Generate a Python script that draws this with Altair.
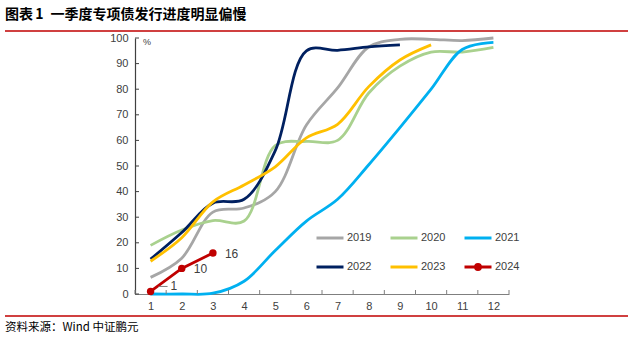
import altair as alt
import pandas as pd

months = list(range(1, 13))
years = ["2019", "2020", "2021", "2022", "2023", "2024"]
v2019 = [6.5, 14, 32, 33.6, 40, 66, 80.5, 96.5, 99.5, 99.5, 99, 100]
v2020 = [19, 25, 28.7, 28.5, 58, 59.6, 60, 78.5, 89, 94.5, 94.5, 96.3]
v2021 = [0, 0, 0.3, 5, 17, 28.5, 37, 50.5, 65, 80, 95.5, 98.3]
v2022 = [13.6, 24, 35.5, 37, 56, 95, 95.2, 96.5, 97.3]
v2023 = [12.8, 22, 36, 42.6, 49.7, 61, 66.3, 81, 91.4, 97.3]
v2024 = [1, 10, 16]
labels2024 = ["1", "10", "16"]
colors = ["#a6a6a6", "#a9d18e", "#00b0f0", "#002060", "#ffc000", "#c00000"]
yvals = list(range(0, 101, 10))
xticks = [m - 0.5 for m in range(1, 14)]

title = "图表\u20061\u2002一季度专项债发行进度明显偏慢"
source = "资料来源：Wind 中证鹏元"

series = [v2019, v2020, v2021, v2022, v2023, v2024]
rows = []
for yr, vals in zip(years, series):
    for m, v in zip(months, vals):
        rows.append({"year": yr, "month": m, "value": v})
df = pd.DataFrame(rows)
df_smooth = df[df.year != "2024"]
df24 = pd.DataFrame({"month": months[:3], "value": v2024, "label": labels2024})

xs = alt.Scale(domain=[0.5, 12.5], nice=False, zero=False)
ys = alt.Scale(domain=[0, 100], nice=False)
FONT = "Liberation Sans"

dot_path = "M-1,0L1,0M0.18,0A0.18,0.18,0,1,1,-0.18,0A0.18,0.18,0,1,1,0.18,0Z"

legend = alt.Legend(
    title=None, orient="none", legendX=180, legendY=185, columns=3, direction="horizontal",
    symbolType={"expr": "datum.value === '2024' ? '" + dot_path + "' : 'stroke'"},
    symbolFillColor={"expr": "datum.value === '2024' ? '#c00000' : 'transparent'"},
    symbolSize=729, symbolStrokeWidth=3,
    labelFontSize=11, labelColor="#404040", labelFont=FONT,
    columnPadding=12, rowPadding=8, labelOffset=2,
)

xaxis = alt.Axis(values=months, ticks=False, grid=False, title=None, labelOverlap=False,
                 labelFlush=False, labelFontSize=11, labelColor="#404040", labelFont=FONT,
                 labelPadding=6, domainColor="#7f7f7f", domainWidth=1.2)
yaxis = alt.Axis(values=yvals, ticks=False, grid=False, title=None, labelOverlap=False,
                 labelFlush=False, labelFontSize=11, labelColor="#404040", labelFont=FONT,
                 labelPadding=7, domainColor="#404040", domainWidth=1.2)


def X(f):
    return alt.X(f, scale=xs, axis=xaxis)


def Y(f):
    return alt.Y(f, scale=ys, axis=yaxis)


lines = alt.Chart(df_smooth).mark_line(interpolate="catmull-rom", strokeWidth=2.8).encode(
    x=X("month:Q"),
    y=Y("value:Q"),
    color=alt.Color("year:N", scale=alt.Scale(domain=years, range=colors), legend=legend),
    detail="year:N",
)

line24 = alt.Chart(df24).mark_line(strokeWidth=2.8, color="#c00000").encode(
    x=X("month:Q"), y=Y("value:Q"))
pts24 = alt.Chart(df24).mark_circle(size=55, color="#c00000", opacity=1).encode(
    x=X("month:Q"), y=Y("value:Q"))

lab_a = alt.Chart(df24[df24.month > 1]).mark_text(
    align="left", baseline="middle", dx=12, dy=1, fontSize=12, font=FONT, color="#404040"
).encode(x=X("month:Q"), y=Y("value:Q"), text="label:N")
lab_b = alt.Chart(df24[df24.month == 1]).mark_text(
    align="left", baseline="middle", dx=20, dy=-5, fontSize=12, font=FONT, color="#404040"
).encode(x=X("month:Q"), y=Y("value:Q"), text="label:N")
leader = alt.Chart(df24[df24.month == 1]).mark_rule(
    color="#7f7f7f", strokeWidth=1, xOffset=8, x2Offset=17, yOffset=-5, y2Offset=-5
).encode(x=X("month:Q"), x2="month:Q", y=Y("value:Q"), y2="value:Q")

ytick = alt.Chart(pd.DataFrame({"v": yvals})).mark_rule(color="#404040", strokeWidth=1).encode(
    y=Y("v:Q"), x=alt.value(0), x2=alt.value(4))
xtick = alt.Chart(pd.DataFrame({"t": xticks})).mark_rule(color="#7f7f7f", strokeWidth=1).encode(
    x=X("t:Q"), y=alt.value(252), y2=alt.value(256))

pct = alt.Chart(pd.DataFrame({"t": ["%"]})).mark_text(
    align="left", baseline="middle", fontSize=9, font=FONT, color="#404040"
).encode(x=alt.value(8), y=alt.value(4), text="t:N")

ttl = alt.Chart(pd.DataFrame({"t": [title]})).mark_text(
    align="left", baseline="middle", fontSize=14, fontWeight="bold",
    font="Noto Sans CJK SC", color="#000000"
).encode(x=alt.value(-130), y=alt.value(-23), text="t:N")
src = alt.Chart(pd.DataFrame({"t": [source]})).mark_text(
    align="left", baseline="middle", fontSize=11.5, font="Noto Sans CJK SC", color="#000000"
).encode(x=alt.value(-130), y=alt.value(290), text="t:N")
top_rule = alt.Chart(pd.DataFrame({"a": [0]})).mark_rule(color="#c00000", strokeWidth=1.6).encode(
    x=alt.value(-130), x2=alt.value(493), y=alt.value(-7))
bot_rule = alt.Chart(pd.DataFrame({"a": [0]})).mark_rule(color="#c00000", strokeWidth=1.6).encode(
    x=alt.value(-130), x2=alt.value(493), y=alt.value(278))

chart = alt.layer(
    lines, line24, pts24, lab_a, lab_b, leader, ytick, xtick, pct, ttl, src, top_rule, bot_rule
).properties(
    width=374, height=256,
    autosize=alt.AutoSizeParams(type="none"),
    padding={"left": 135, "top": 38, "right": 124, "bottom": 49},
).configure_view(stroke="transparent")

chart.save("out.html", embed_options={"renderer": "svg", "actions": False})
